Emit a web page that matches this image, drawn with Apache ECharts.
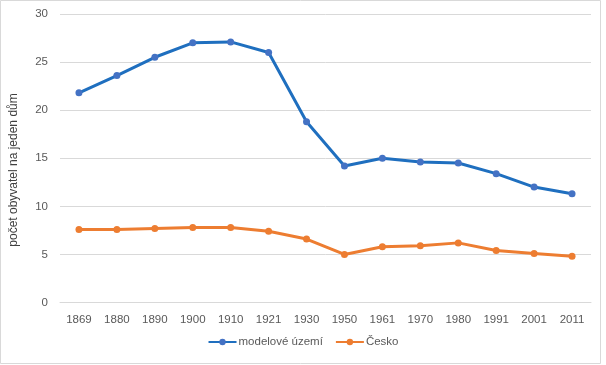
<!DOCTYPE html>
<html><head><meta charset="utf-8">
<script src="https://cdn.jsdelivr.net/npm/echarts@6/dist/echarts.min.js"></script>
<style>html,body{margin:0;padding:0;background:#fff}#c{width:606px;height:365px}</style>
</head><body><div id="c"></div>
<script>
const categories = ['1869','1880','1890','1900','1910','1921','1930','1950','1961','1970','1980','1991','2001','2011'];
const modeloveUzemi = [21.8, 23.6, 25.5, 27.0, 27.1, 26.0, 18.8, 14.2, 15.0, 14.6, 14.5, 13.4, 12.0, 11.3];
const cesko = [7.6, 7.6, 7.7, 7.8, 7.8, 7.4, 6.6, 5.0, 5.8, 5.9, 6.2, 5.4, 5.1, 4.8];
const seriesNames = ['modelové území', 'Česko'];
const yTitle = 'počet obyvatel na jeden dům';

const font = 'Liberation Sans, Arial, sans-serif';
const chart = echarts.init(document.getElementById('c'), null, {renderer: 'canvas'});
chart.setOption({
  animation: false,
  backgroundColor: '#fff',
  graphic: [
    {type: 'rect', shape: {x: 0.5, y: 0.5, width: 600, height: 363}, style: {fill: 'none', stroke: '#d9d9d9', lineWidth: 1}, silent: true},
    {type: 'text', x: 14, y: 170, rotation: Math.PI / 2,
     style: {text: yTitle, fontFamily: font, fontSize: 12, fill: '#404040', align: 'center', verticalAlign: 'middle'}, silent: true}
  ],
  grid: {left: 60, right: 15, top: 14, bottom: 62.5, containLabel: false},
  legend: {
    bottom: 12, left: 'center', itemWidth: 28, itemHeight: 8, itemGap: 12,
    textStyle: {fontFamily: font, fontSize: 11.5, color: '#595959', padding: [0, 0, 0, -3]},
    data: seriesNames
  },
  xAxis: {
    type: 'category', data: categories, boundaryGap: true,
    axisLine: {show: true, lineStyle: {color: '#d9d9d9'}},
    axisTick: {show: false},
    axisLabel: {fontFamily: font, fontSize: 11.5, color: '#595959', margin: 11}
  },
  yAxis: {
    type: 'value', min: 0, max: 30, interval: 5,
    axisLine: {show: false}, axisTick: {show: false},
    axisLabel: {fontFamily: font, fontSize: 11.5, color: '#595959', margin: 12},
    splitLine: {lineStyle: {color: '#d9d9d9'}}
  },
  series: [
    {name: seriesNames[0], type: 'line', data: modeloveUzemi, symbol: 'circle', symbolSize: 7,
     lineStyle: {width: 3, color: '#1f6fbf'}, itemStyle: {color: '#4472c4'}, color: '#4472c4'},
    {name: seriesNames[1], type: 'line', data: cesko, symbol: 'circle', symbolSize: 7,
     lineStyle: {width: 3, color: '#ed7d31'}, itemStyle: {color: '#ed7d31'}, color: '#ed7d31'}
  ]
});
</script></body></html>
